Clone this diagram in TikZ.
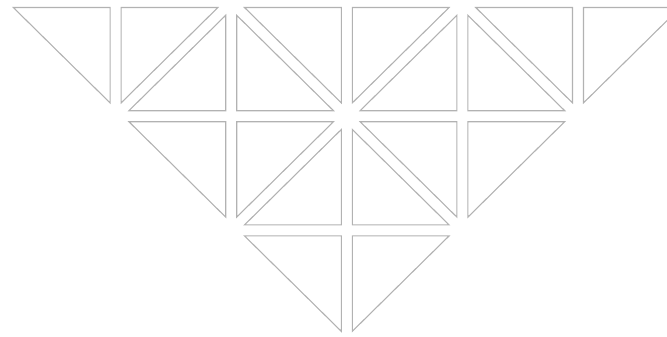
\documentclass[tikz,border=0pt]{standalone}
\begin{document}
\def\sx{115.6}
\def\sy{114.2}
\def\dd{5.5}
\def\ee{13.3}
\tikzset{
  tri/.style={draw=black!30, line width=1.1pt, line join=miter},
  pics/ur/.style={code={\draw[tri] (\ee,\dd) -- ({\sx-\dd},\dd) -- ({\sx-\dd},{\sy-\ee}) -- cycle;}},
  pics/ll/.style={code={\draw[tri] (\dd,\ee) -- ({\sx-\ee},{\sy-\dd}) -- (\dd,{\sy-\dd}) -- cycle;}},
  pics/ul/.style={code={\draw[tri] (\dd,\dd) -- ({\sx-\ee},\dd) -- (\dd,{\sy-\ee}) -- cycle;}},
  pics/lr/.style={code={\draw[tri] ({\sx-\dd},\ee) -- ({\sx-\dd},{\sy-\dd}) -- (\ee,{\sy-\dd}) -- cycle;}}
}
\begin{tikzpicture}[x=1pt,y=-1pt]
\useasboundingbox (0,0) rectangle (667,337);
\clip (0,0) rectangle (667,337);
\foreach \r/\c/\t in {0/0/ur, 0/1/ul, 0/1/lr, 0/2/ur, 0/2/ll, 0/3/ul, 0/3/lr, 0/4/ur, 0/4/ll, 0/5/ul,
                      1/1/ur, 1/2/ul, 1/2/lr, 1/3/ur, 1/3/ll, 1/4/ul,
                      2/2/ur, 2/3/ul}
  \pic at ({\c*\sx},{2+\r*\sy}) {\t};
\end{tikzpicture}
\end{document}
